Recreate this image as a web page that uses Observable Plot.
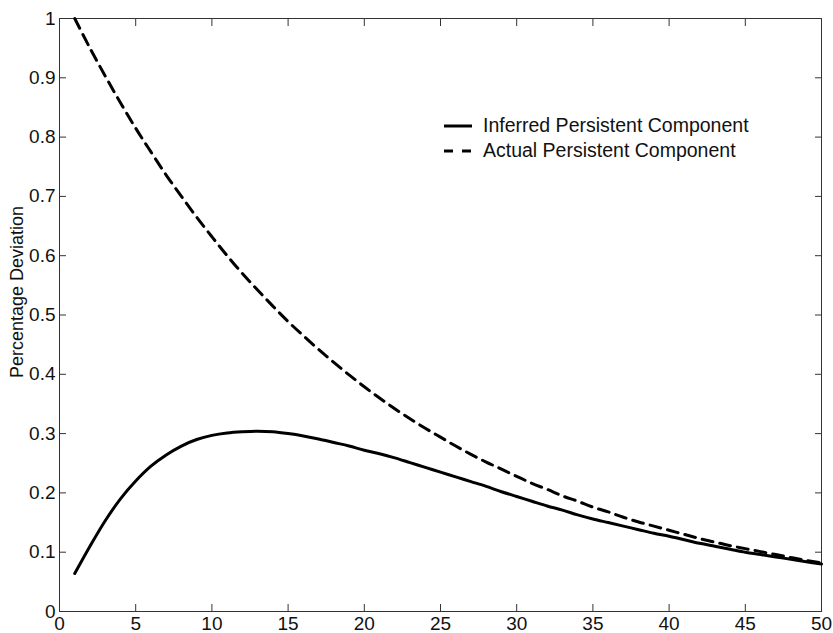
<!DOCTYPE html>
<html><head><meta charset="utf-8">
<script src="https://cdn.jsdelivr.net/npm/d3@7"></script>
<script src="https://cdn.jsdelivr.net/npm/@observablehq/plot@0.6"></script>
<style>
body{margin:0;background:#fff;}
#wrap{position:relative;width:833px;height:633px;font-family:"Liberation Sans",Arial,Helvetica,sans-serif;}
#legend{position:absolute;left:444px;top:113px;font-size:19.5px;color:#111;line-height:25px;}
#legend .row{display:flex;align-items:center;height:25px;}
#legend svg{width:30px;height:10px;margin-right:9px;}
</style></head><body><div id="wrap"></div>
<script>
const periods = [1,2,3,4,5,6,7,8,9,10,11,12,13,14,15,16,17,18,19,20,21,22,23,24,25,26,27,28,29,30,31,32,33,34,35,36,37,38,39,40,41,42,43,44,45,46,47,48,49,50];
const actual = [1.000,0.950,0.903,0.858,0.815,0.775,0.736,0.700,0.665,0.632,0.600,0.570,0.542,0.515,0.489,0.465,0.442,0.420,0.399,0.379,0.360,0.342,0.325,0.309,0.294,0.279,0.265,0.252,0.240,0.228,0.216,0.206,0.195,0.186,0.176,0.168,0.159,0.151,0.144,0.137,0.130,0.123,0.117,0.111,0.106,0.101,0.096,0.091,0.086,0.082];
const inferred = [0.064,0.110,0.153,0.190,0.220,0.245,0.264,0.279,0.290,0.297,0.301,0.303,0.304,0.303,0.300,0.296,0.291,0.285,0.279,0.272,0.266,0.259,0.251,0.243,0.235,0.227,0.219,0.211,0.202,0.194,0.186,0.178,0.171,0.163,0.156,0.150,0.144,0.138,0.132,0.127,0.121,0.115,0.110,0.105,0.100,0.096,0.092,0.088,0.084,0.080];
const xTicks = [0,5,10,15,20,25,30,35,40,45,50];
const yTicks = [0,0.1,0.2,0.3,0.4,0.5,0.6,0.7,0.8,0.9,1];
const seriesNames = ["Inferred Persistent Component","Actual Persistent Component"];
const yLabel = "Percentage Deviation";

const inferredRows = periods.map((t,i)=>({t, v: inferred[i]}));
const actualRows = periods.map((t,i)=>({t, v: actual[i]}));
const fmt = d => String(Math.round(d*10)/10);
const axisColor = "#333";

const chart = Plot.plot({
  width: 833, height: 633,
  marginLeft: 59, marginRight: 12, marginTop: 18, marginBottom: 22,
  style: {fontFamily: '"Liberation Sans", Arial, Helvetica, sans-serif', fontSize: "19px", color: "#111", background: "#fff"},
  x: {domain: [0,50]},
  y: {domain: [0,1]},
  marks: [
    Plot.frame({stroke: axisColor, strokeWidth: 1}),
    Plot.axisX(xTicks, {anchor: "bottom", tickSize: -7, tickFormat: () => "", label: null, stroke: axisColor}),
    Plot.axisX(xTicks, {anchor: "top", tickSize: -7, tickFormat: () => "", label: null, stroke: axisColor}),
    Plot.axisY(yTicks, {anchor: "left", tickSize: -7, tickFormat: () => "", label: null, stroke: axisColor}),
    Plot.axisY(yTicks, {anchor: "right", tickSize: -7, tickFormat: () => "", label: null, stroke: axisColor}),
    Plot.axisX(xTicks, {anchor: "bottom", tickSize: 0, tickPadding: 5, tickFormat: fmt, label: null, fill: "#111"}),
    Plot.axisY(yTicks, {anchor: "left", tickSize: 0, tickPadding: 4, tickFormat: fmt, label: null, fill: "#111"}),
    Plot.text([yLabel], {frameAnchor: "left", textAnchor: "middle", text: d => d, rotate: -90, dx: -42, dy: -23, fontSize: 18, fill: "#111"}),
    Plot.line(actualRows, {x: "t", y: "v", stroke: "#000", strokeWidth: 3, strokeDasharray: "11,7", curve: "catmull-rom"}),
    Plot.line(inferredRows, {x: "t", y: "v", stroke: "#000", strokeWidth: 3, curve: "catmull-rom"})
  ]
});
const wrap = document.getElementById("wrap");
wrap.appendChild(chart);
const legend = document.createElement("div");
legend.id = "legend";
legend.innerHTML = `
<div class="row"><svg viewBox="0 0 30 10"><line x1="0" y1="5" x2="28" y2="5" stroke="#000" stroke-width="3"/></svg><span>${seriesNames[0]}</span></div>
<div class="row"><svg viewBox="0 0 30 10"><line x1="0" y1="5" x2="28" y2="5" stroke="#000" stroke-width="3" stroke-dasharray="9,9"/></svg><span>${seriesNames[1]}</span></div>`;
wrap.appendChild(legend);
</script></body></html>
